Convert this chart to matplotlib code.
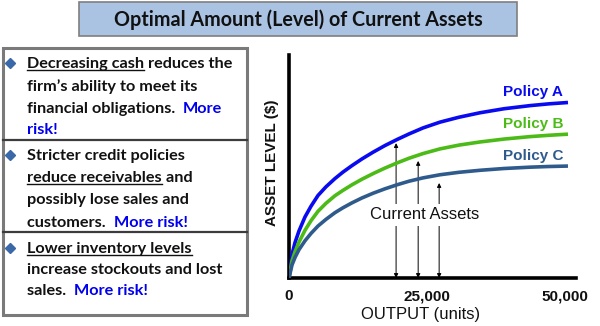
import matplotlib
matplotlib.use("Agg")
import matplotlib.pyplot as plt
from matplotlib.patches import Rectangle

# ---------------- data ----------------
output_units = [0, 540, 1090, 1810, 2900, 3990, 5250, 6700, 8330, 9780, 11410, 13220,
                15220, 17390, 19570, 21740, 24280, 27360, 30800, 34600, 38950, 43660, 47100, 50540]
policy_a = [0, 10.5, 15.9, 21.1, 27.4, 32.2, 37.0, 40.9, 44.6, 47.5, 50.4, 53.4,
            56.4, 59.4, 62.1, 64.6, 67.3, 69.9, 72.1, 74.1, 75.9, 77.3, 78.1, 78.7]
policy_b = [0, 7.7, 11.8, 16.1, 21.4, 25.7, 29.9, 33.5, 36.9, 39.3, 41.8, 44.3,
            46.8, 49.3, 51.6, 53.7, 55.8, 57.9, 59.6, 61.0, 62.3, 63.4, 64.0, 64.5]
policy_c = [0, 5.8, 9.2, 12.7, 16.7, 20.0, 23.3, 26.3, 29.3, 31.5, 33.7, 35.9,
            38.0, 40.0, 41.8, 43.4, 44.9, 46.3, 47.4, 48.3, 49.1, 49.7, 50.0, 50.2]
policy_names = ["Policy A", "Policy B", "Policy C"]
policy_colors = ["#0a0af0", "#4cbb17", "#2f5b8c"]

arrow_x = [19400, 23400, 27200]
arrow_top = [60.5, 52.5, 42.6]

x_ticks = [0, 25000, 50000]
x_tick_labels = ["0", "25,000", "50,000"]

title_text = "Optimal Amount (Level) of Current Assets"

BLACK = "#111111"
BLUE = "#0000ee"
sections = [
    [[("Decreasing cash", BLACK, True), (" reduces the", BLACK, False)],
     [("firm\u2019s ability to meet its", BLACK, False)],
     [("financial obligations.  ", BLACK, False), ("More", BLUE, False)],
     [("risk!", BLUE, False)]],
    [[("Stricter credit policies", BLACK, False)],
     [("reduce receivables", BLACK, True), (" and", BLACK, False)],
     [("possibly lose sales and", BLACK, False)],
     [("customers.  ", BLACK, False), ("More risk!", BLUE, False)]],
    [[("Lower inventory levels", BLACK, True)],
     [("increase stockouts and lost", BLACK, False)],
     [("sales.  ", BLACK, False), ("More risk!", BLUE, False)]],
]
line_centers = [[63, 86, 108, 129], [155, 177, 199, 222], [248, 269, 290]]

# ---------------- figure ----------------
W, H = 600, 326
fig = plt.figure(figsize=(6, 3.26), dpi=100)
fig.patch.set_facecolor("white")

bg = fig.add_axes([0, 0, 1, 1])
bg.set_xlim(0, W)
bg.set_ylim(H, 0)
bg.axis("off")

renderer = fig.canvas.get_renderer()


def text_width(s, **kw):
    t = bg.text(0, 0, s + "|", **kw)
    w1 = t.get_window_extent(renderer).width
    t.remove()
    t = bg.text(0, 0, "|", **kw)
    w2 = t.get_window_extent(renderer).width
    t.remove()
    return w1 - w2


# Title box
bg.add_patch(Rectangle((79, 2), 438, 34, facecolor="#aac3e3", edgecolor="#7f7f7f", lw=1.2))
tkw = dict(family="Lato", weight="bold")
tw = text_width(title_text, fontsize=12, **tkw)
title_fs = 12 * 366 / tw
bg.text(298, 19.5, title_text, fontsize=title_fs, ha="center", va="center", color=BLACK, **tkw)

# Left panel
bg.add_patch(Rectangle((3, 48), 244, 267, facecolor="white", edgecolor="#7a7a7a", lw=2.2))
for yd in (140, 232):
    bg.plot([3, 247], [yd, yd], color="#3c3c3c", lw=1.6)

bkw = dict(family="Lato", weight="bold")
w_ref = text_width("Decreasing cash reduces the", fontsize=11, **bkw)
body_fs = 11 * 206 / w_ref

x0 = 27
for sec, centers in zip(sections, line_centers):
    bg.plot([10], [centers[0]], marker="D", markersize=4.6, color="#3a68a8", linestyle="none")
    for runs, yc in zip(sec, centers):
        prefix = ""
        base = yc + 5
        for txt, col, ul in runs:
            xs = x0 + (text_width(prefix, fontsize=body_fs, **bkw) if prefix else 0)
            bg.text(xs, base, txt, fontsize=body_fs, color=col, ha="left", va="baseline", **bkw)
            if ul:
                wu = text_width(txt, fontsize=body_fs, **bkw)
                bg.plot([xs, xs + wu], [base + 2.2, base + 2.2], color=col, lw=1.0)
            prefix += txt

# ---------------- chart ----------------
ax_left, ax_right, ax_top, ax_bot = 289, 576, 55, 278
ax = fig.add_axes([ax_left / W, (H - ax_bot) / H, (ax_right - ax_left) / W, (ax_bot - ax_top) / H])
ax.patch.set_alpha(0)
px_per_unit = 276 / 50000
ax.set_xlim(0, (ax_right - ax_left) / px_per_unit)
ax.set_ylim(0, 100)

for name, ys, col in zip(policy_names, [policy_a, policy_b, policy_c], policy_colors):
    ax.plot(output_units, ys, color=col, lw=2.6, solid_capstyle="butt",
            solid_joinstyle="round", zorder=3)
    ax.annotate(name, xy=(output_units[-1], ys[-1]), xytext=(-3.5, 7.5), textcoords="offset points",
                ha="right", va="center", fontsize=11, weight="bold", color=col,
                family="Liberation Sans")

for xa, ya in zip(arrow_x, arrow_top):
    ax.annotate("", xy=(xa, ya), xytext=(xa, 0),
                arrowprops=dict(arrowstyle="<|-|>", color="black", lw=0.7,
                                mutation_scale=6, shrinkA=0, shrinkB=0), zorder=2)

ax.text(24600, 28.3, "Current Assets", ha="center", va="center", fontsize=12,
        family="Liberation Sans", color=BLACK, zorder=4,
        bbox=dict(facecolor="white", edgecolor="none", pad=2.5))

for side in ("top", "right"):
    ax.spines[side].set_visible(False)
for side in ("left", "bottom"):
    ax.spines[side].set_linewidth(2.6)
    ax.spines[side].set_color("black")
ax.set_yticks([])
ax.set_xticks(x_ticks)
ax.set_xticklabels(x_tick_labels, fontsize=11, weight="bold", family="Liberation Sans", color=BLACK)
ax.tick_params(axis="x", length=0, pad=8)

ax.set_xlabel("OUTPUT (units)", fontsize=12, family="Liberation Sans", color=BLACK, va="center")
ax.xaxis.set_label_coords((421 - ax_left) / (ax_right - ax_left), -(314 - ax_bot) / (ax_bot - ax_top))
ax.set_ylabel("ASSET LEVEL ($)", fontsize=11, weight="bold", family="Liberation Sans", color=BLACK, va="center")
ax.yaxis.set_label_coords((272 - ax_left) / (ax_right - ax_left), (ax_bot - 163) / (ax_bot - ax_top))

fig.savefig("out.png", dpi=100)
